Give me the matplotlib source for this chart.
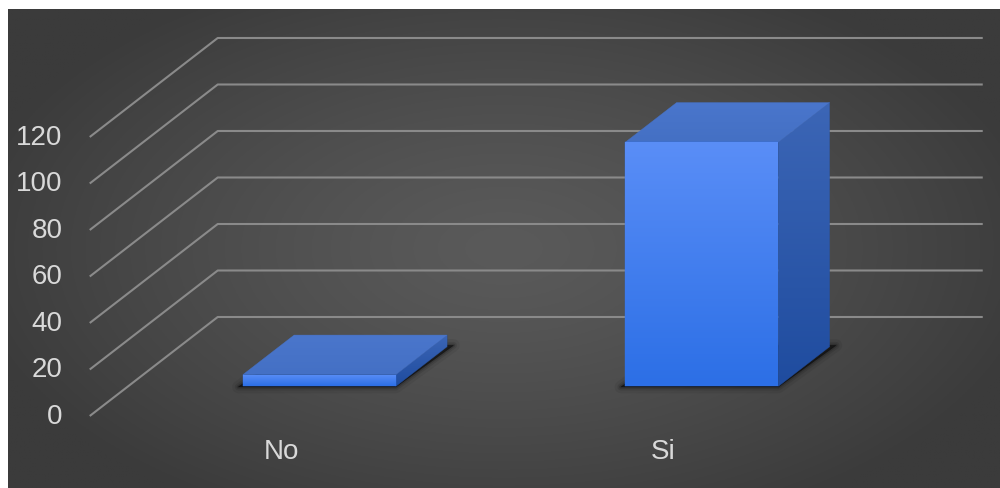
import numpy as np
import matplotlib
matplotlib.use("Agg")
import matplotlib.pyplot as plt
from matplotlib.patches import Polygon
from matplotlib.colors import LinearSegmentedColormap, to_rgb

# ---- data ----
categories = ["No", "Si"]
counts = [5, 105]
y_ticks = [0, 20, 40, 60, 80, 100, 120]

# ---- 3D oblique layout (x in category units, y in value units) ----
DEPTH_DX = 0.3346      # x shift from front to back wall
DEPTH_DY = 42.58       # vertical shift from front to back wall (value units)
WALL_LEFT, WALL_RIGHT = -0.5, 1.5
BAR_HALF = 0.2
BAR_Z0, BAR_Z1 = 0.3, 0.7

TEXT_COLOR = "#d9d9d9"
GRID_COLOR = "#8a8a8a"
plt.rcParams["font.family"] = ["Liberation Sans", "DejaVu Sans"]


def proj(x, v, z):
    return (x + DEPTH_DX * z, v + DEPTH_DY * z)


fig = plt.figure(figsize=(10, 4.89), dpi=100)
fig.patch.set_facecolor("white")

# dark panel with a soft radial gradient
bg = fig.add_axes([8 / 1000, 0, 992 / 1000, 479 / 489])
bg.set_axis_off()
yy, xx = np.mgrid[-1:1:300j, -1:1:600j]
r = np.clip(np.sqrt((xx / 1.1) ** 2 + (yy / 1.25) ** 2), 0, 1)
centre, edge = np.array(to_rgb("#5a5a5a")), np.array(to_rgb("#3b3b3b"))
img = centre[None, None, :] + (edge - centre)[None, None, :] * (r[..., None] ** 1.3)
bg.imshow(img, aspect="auto", extent=(0, 1, 0, 1))
bg.set_xlim(0, 1)
bg.set_ylim(0, 1)

ax = fig.add_axes([0, 0, 1, 1])
ax.set_facecolor("none")
ax.set_axis_off()

# walls: side-wall diagonals and back-wall horizontals
for v in y_ticks:
    p0 = proj(WALL_LEFT, v, 0)
    p1 = proj(WALL_LEFT, v, 1)
    p2 = proj(WALL_RIGHT, v, 1)
    ax.plot([p0[0], p1[0], p2[0]], [p0[1], p1[1], p2[1]],
            color=GRID_COLOR, lw=1.5, solid_capstyle="butt", zorder=1)
    ax.annotate(str(v), xy=p0, xytext=(-27, 0), textcoords="offset pixels",
                ha="right", va="center", fontsize=20, color=TEXT_COLOR)

for i, name in enumerate(categories):
    ax.annotate(name, xy=(i, 0), xytext=(0, -35), textcoords="offset pixels",
                ha="center", va="center", fontsize=20, color=TEXT_COLOR)


def gradient_face(verts, top_color, bottom_color, zorder):
    poly = Polygon(verts, closed=True, facecolor="none",
                   edgecolor=bottom_color, lw=0.3, zorder=zorder)
    ax.add_patch(poly)
    xs = [p[0] for p in verts]
    ys = [p[1] for p in verts]
    cmap = LinearSegmentedColormap.from_list("face", [bottom_color, top_color])
    grad = np.linspace(0, 1, 256).reshape(-1, 1)
    im = ax.imshow(grad, extent=(min(xs), max(xs), min(ys), max(ys)),
                   origin="lower", cmap=cmap, aspect="auto",
                   interpolation="bilinear", zorder=zorder)
    im.set_clip_path(poly)


for i, h in enumerate(counts):
    x0, x1 = i - BAR_HALF, i + BAR_HALF
    # soft contact shadow around the base
    base = [proj(x0 - 0.012, -0.3, BAR_Z0), proj(x1, -0.3, BAR_Z0),
            proj(x1 + 0.01, -0.3, BAR_Z1 + 0.02), proj(x0, -0.3, BAR_Z1 + 0.02)]
    for lw, a in [(9, 0.06), (5, 0.1), (2.5, 0.16), (0.5, 0.3)]:
        ax.add_patch(Polygon(base, closed=True, facecolor="black", edgecolor="black",
                             lw=lw, alpha=a, joinstyle="round", zorder=2))

    side = [proj(x1, 0, BAR_Z0), proj(x1, 0, BAR_Z1), proj(x1, h, BAR_Z1), proj(x1, h, BAR_Z0)]
    top = [proj(x0, h, BAR_Z0), proj(x1, h, BAR_Z0), proj(x1, h, BAR_Z1), proj(x0, h, BAR_Z1)]
    front = [proj(x0, 0, BAR_Z0), proj(x1, 0, BAR_Z0), proj(x1, h, BAR_Z0), proj(x0, h, BAR_Z0)]

    gradient_face(side, "#3c66b6", "#1f4c9f", 3)
    gradient_face(top, "#4a76cc", "#4470c4", 3)
    gradient_face(front, "#5a8ef7", "#2c6fe6", 4)

ax.set_xlim(-0.7346, 1.8797)
ax.set_ylim(-30.97, 179.35)

fig.savefig("out.png", dpi=100, facecolor=fig.get_facecolor())
